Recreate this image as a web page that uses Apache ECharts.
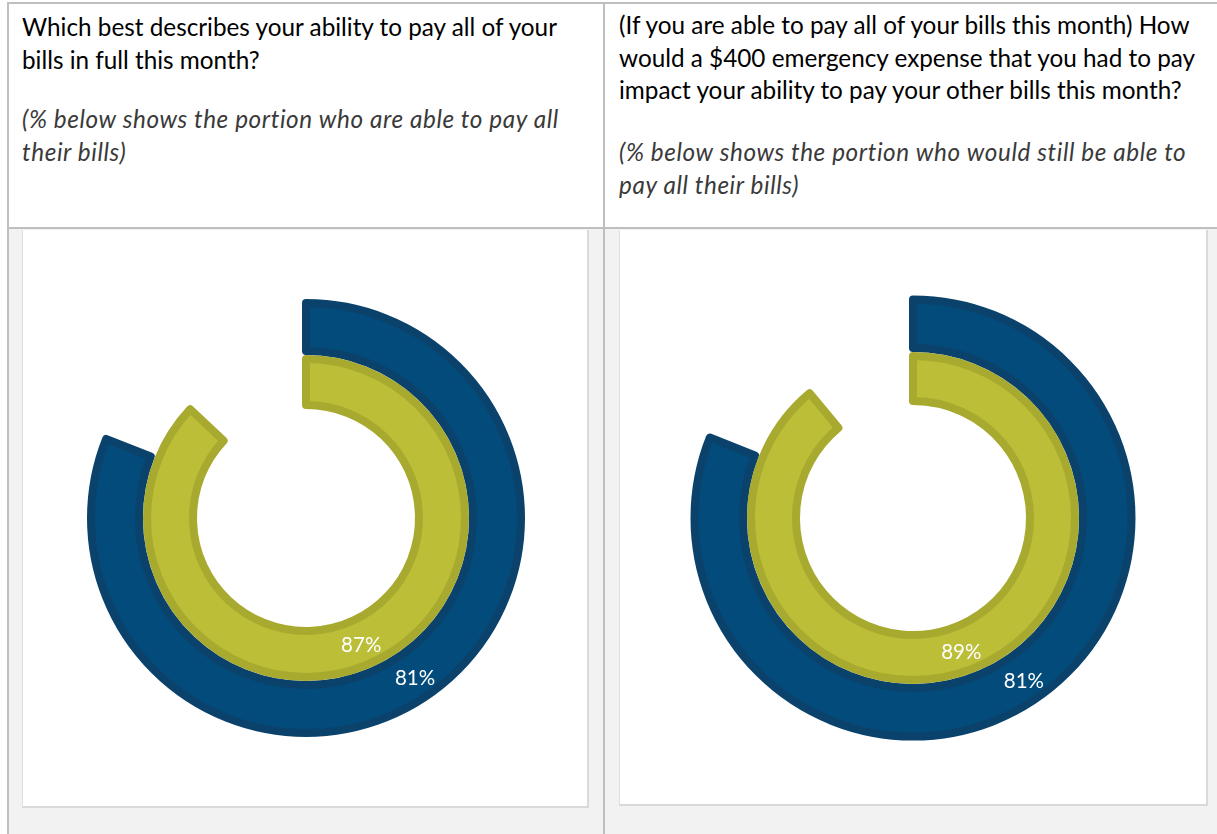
<!DOCTYPE html>
<html>
<head>
<meta charset="utf-8">
<script src="https://cdn.jsdelivr.net/npm/echarts@6/dist/echarts.min.js"></script>
<style>
  html, body { margin:0; padding:0; width:1217px; height:834px; overflow:hidden; background:#fff; }
  .abs { position:absolute; }
  .q { position:absolute; font-family: Lato, "Open Sans", sans-serif; font-size:24.3px; line-height:32.5px; color:#000; white-space:nowrap; }
  .n { font-style:italic; color:#3a3a3a; letter-spacing:0.6px; }
  #chart { position:absolute; left:0; top:0; width:1217px; height:834px; }
</style>
</head>
<body>
<div id="table"></div>
<div id="chart"></div>
<script>
// ---- data ----
const questionLines = [
  ["Which best describes your ability to pay all of your", "bills in full this month?"],
  ["(If you are able to pay all of your bills this month) How", "would a $400 emergency expense that you had to pay", "impact your ability to pay your other bills this month?"]
];
const noteLines = [
  ["(% below shows the portion who are able to pay all", "their bills)"],
  ["(% below shows the portion who would still be able to", "pay all their bills)"]
];
const outerValues = [81, 81];   // blue ring
const innerValues = [87, 89];   // green ring

// ---- table layout (HTML) ----
const t = document.getElementById('table');
function box(x, y, w, h, style) {
  const d = document.createElement('div');
  d.className = 'abs';
  d.style.left = x + 'px'; d.style.top = y + 'px';
  d.style.width = w + 'px'; d.style.height = h + 'px';
  Object.assign(d.style, style);
  t.appendChild(d);
}
// grey background of chart row
box(8, 229, 1209, 605, {background:'#f2f2f2'});
// white chart boxes
box(22, 230, 567, 578, {background:'#fff', borderRight:'2px solid #d9d9d9', borderBottom:'2px solid #d9d9d9', borderLeft:'1px solid #e0e0e0', boxSizing:'border-box'});
box(619, 230, 589, 576, {background:'#fff', borderRight:'2px solid #d9d9d9', borderBottom:'2px solid #d9d9d9', borderLeft:'1px solid #e0e0e0', boxSizing:'border-box'});
// table lines
box(7, 2, 1210, 2, {background:'#bfbfbf'});
box(7, 227, 1210, 2, {background:'#bfbfbf'});
box(7, 2, 2, 832, {background:'#bfbfbf'});
box(603, 2, 2, 832, {background:'#bfbfbf'});

function addText(x, y, lines, cls) {
  const d = document.createElement('div');
  d.className = 'q' + (cls ? ' ' + cls : '');
  d.style.left = x + 'px'; d.style.top = y + 'px';
  d.innerHTML = lines.map(s => s.replace(/&/g,'&amp;')).join('<br>');
  t.appendChild(d);
}
addText(22, 11, questionLines[0]);
addText(22, 103, noteLines[0], 'n');
addText(619, 9, questionLines[1]);
addText(619, 136, noteLines[1], 'n');

// ---- charts ----
const blue = '#034b7a', blueEdge = '#0b426c';
const green = '#bbbe36', greenEdge = '#a8aa2f';
const centers = [[306, 518], [913, 518]];
const outerRadii = [[167, 215], [170, 218.5]];
const innerRadii = [[113, 159], [117, 162]];

function ring(value, center, radius, color, edge) {
  return {
    type: 'pie',
    center: center,
    radius: radius,
    startAngle: 90,
    clockwise: true,
    silent: true,
    animation: false,
    label: { show: true, position: 'inside', formatter: '{c}%', color: '#fff',
             fontFamily: 'Lato, sans-serif', fontSize: 20.5 },
    labelLine: { show: false },
    emphasis: { disabled: true },
    data: [
      { value: value, itemStyle: { color: color, borderColor: edge, borderWidth: 8 } },
      { value: 100 - value, itemStyle: { color: 'transparent', borderWidth: 0 }, label: { show: false } }
    ]
  };
}

const series = [];
for (let i = 0; i < 2; i++) {
  series.push(ring(outerValues[i], centers[i], outerRadii[i], blue, blueEdge));
  series.push(ring(innerValues[i], centers[i], innerRadii[i], green, greenEdge));
}

const chart = echarts.init(document.getElementById('chart'), null, { renderer: 'canvas' });
chart.setOption({ backgroundColor: 'transparent', animation: false, series: series });
</script>
</body>
</html>
